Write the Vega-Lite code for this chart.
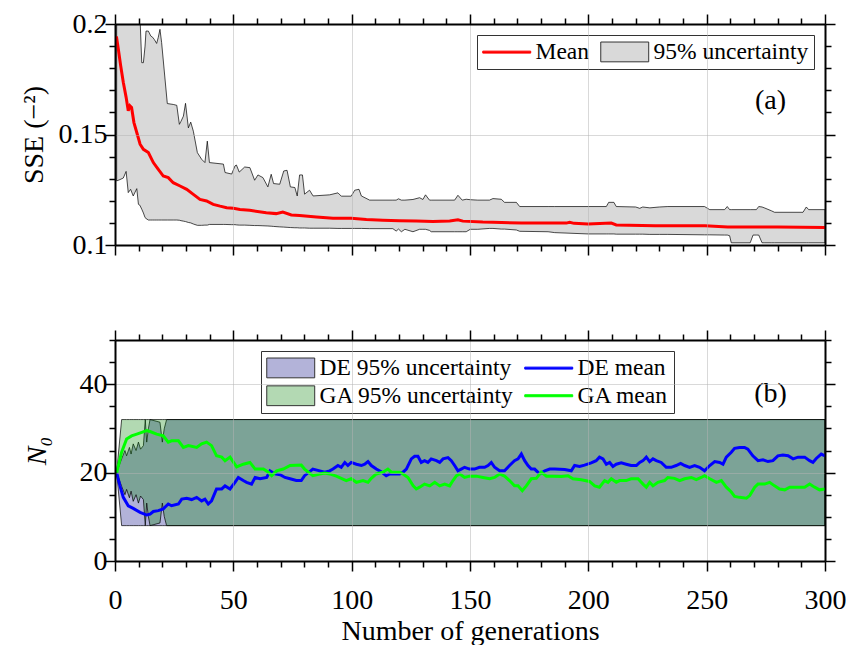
{
  "$schema": "https://vega.github.io/schema/vega-lite/v6.json",
  "padding": {"left": 20, "top": 10, "right": 5, "bottom": 0},
  "background": "white",
  "datasets": {
    "sseBand": [
      {"g":0.7,"lo":0.129,"hi":0.215},{"g":2.1,"lo":0.1296,"hi":0.215},{"g":3.5,"lo":0.1303,"hi":0.215},{"g":4.7,"lo":0.1333,"hi":0.215},{"g":5.6,"lo":0.1237,"hi":0.215},{"g":6.6,"lo":0.1252,"hi":0.215},{"g":7.7,"lo":0.1222,"hi":0.215},{"g":9.2,"lo":0.1255,"hi":0.215},{"g":9.9,"lo":0.1184,"hi":0.215},{"g":10.5,"lo":0.118,"hi":0.205},{"g":11.3,"lo":0.1162,"hi":0.1825},{"g":12,"lo":0.1145,"hi":0.1825},{"g":12.7,"lo":0.1124,"hi":0.19},{"g":13.1,"lo":0.112,"hi":0.1968},{"g":14.1,"lo":0.1113,"hi":0.1968},{"g":15.1,"lo":0.1113,"hi":0.1946},{"g":15.9,"lo":0.1113,"hi":0.194},{"g":16.6,"lo":0.1113,"hi":0.193},{"g":17.6,"lo":0.1113,"hi":0.1912},{"g":18.3,"lo":0.1113,"hi":0.194},{"g":19,"lo":0.1113,"hi":0.1976},{"g":19.7,"lo":0.1113,"hi":0.1916},{"g":22.1,"lo":0.1113,"hi":0.164},{"g":24.6,"lo":0.1113,"hi":0.1636},{"g":26.1,"lo":0.1113,"hi":0.1632},{"g":27.2,"lo":0.1112,"hi":0.1546},{"g":27.9,"lo":0.111,"hi":0.156},{"g":28.9,"lo":0.1108,"hi":0.1583},{"g":29.8,"lo":0.1106,"hi":0.1641},{"g":31,"lo":0.1102,"hi":0.153},{"g":32,"lo":0.11,"hi":0.1556},{"g":33.1,"lo":0.1095,"hi":0.1515},{"g":34.8,"lo":0.1089,"hi":0.1418},{"g":36.6,"lo":0.1089,"hi":0.1388},{"g":38,"lo":0.109,"hi":0.1373},{"g":39,"lo":0.109,"hi":0.147},{"g":39.9,"lo":0.1093,"hi":0.1373},{"g":45.8,"lo":0.1093,"hi":0.1366},{"g":46.5,"lo":0.1093,"hi":0.1328},{"g":49.3,"lo":0.1092,"hi":0.1321},{"g":50.7,"lo":0.1092,"hi":0.1358},{"g":51.3,"lo":0.1091,"hi":0.1362},{"g":52.5,"lo":0.109,"hi":0.133},{"g":54.8,"lo":0.109,"hi":0.1353},{"g":57,"lo":0.1089,"hi":0.135},{"g":59,"lo":0.1088,"hi":0.1293},{"g":60.4,"lo":0.1088,"hi":0.1317},{"g":62.5,"lo":0.1087,"hi":0.1305},{"g":64.6,"lo":0.1086,"hi":0.1263},{"g":66,"lo":0.1085,"hi":0.132},{"g":67,"lo":0.1084,"hi":0.1278},{"g":69.6,"lo":0.1082,"hi":0.1275},{"g":71.3,"lo":0.1081,"hi":0.1335},{"g":72.7,"lo":0.108,"hi":0.1338},{"g":74.1,"lo":0.1079,"hi":0.1263},{"g":76,"lo":0.1078,"hi":0.126},{"g":77,"lo":0.1078,"hi":0.1222},{"g":78,"lo":0.1077,"hi":0.1317},{"g":79.2,"lo":0.1077,"hi":0.1317},{"g":80.1,"lo":0.1077,"hi":0.123},{"g":82.2,"lo":0.1076,"hi":0.1248},{"g":83.7,"lo":0.1076,"hi":0.1222},{"g":90.7,"lo":0.1076,"hi":0.1227},{"g":94.2,"lo":0.1075,"hi":0.1236},{"g":95.6,"lo":0.1075,"hi":0.1221},{"g":99.8,"lo":0.1075,"hi":0.1221},{"g":101.3,"lo":0.1075,"hi":0.1248},{"g":103.1,"lo":0.1075,"hi":0.1252},{"g":104.1,"lo":0.1075,"hi":0.1222},{"g":107.6,"lo":0.1074,"hi":0.1203},{"g":117.4,"lo":0.1074,"hi":0.1203},{"g":118.8,"lo":0.1063,"hi":0.1203},{"g":119.8,"lo":0.1072,"hi":0.1209},{"g":121,"lo":0.106,"hi":0.1203},{"g":122.5,"lo":0.1071,"hi":0.1203},{"g":125.9,"lo":0.106,"hi":0.1206},{"g":128.7,"lo":0.1071,"hi":0.1214},{"g":130.1,"lo":0.1071,"hi":0.1206},{"g":131.2,"lo":0.1071,"hi":0.1227},{"g":132.9,"lo":0.1066,"hi":0.1203},{"g":133.6,"lo":0.106,"hi":0.1203},{"g":143.5,"lo":0.106,"hi":0.1203},{"g":144.9,"lo":0.106,"hi":0.1225},{"g":146.7,"lo":0.106,"hi":0.1203},{"g":148.4,"lo":0.106,"hi":0.1207},{"g":150.1,"lo":0.1071,"hi":0.1205},{"g":153.3,"lo":0.1071,"hi":0.1203},{"g":158.2,"lo":0.1075,"hi":0.1203},{"g":159.7,"lo":0.1075,"hi":0.121},{"g":163.2,"lo":0.1072,"hi":0.1207},{"g":164.6,"lo":0.1072,"hi":0.1193},{"g":169.6,"lo":0.1068,"hi":0.1193},{"g":171,"lo":0.1062,"hi":0.1174},{"g":183,"lo":0.106,"hi":0.1174},{"g":185.8,"lo":0.1056,"hi":0.1174},{"g":199.9,"lo":0.105,"hi":0.1174},{"g":207.6,"lo":0.105,"hi":0.1174},{"g":208.6,"lo":0.105,"hi":0.1193},{"g":210.8,"lo":0.105,"hi":0.1193},{"g":211.8,"lo":0.1049,"hi":0.1174},{"g":220,"lo":0.1049,"hi":0.1172},{"g":221.7,"lo":0.1049,"hi":0.1166},{"g":223,"lo":0.1049,"hi":0.1172},{"g":226,"lo":0.1048,"hi":0.1168},{"g":230,"lo":0.1048,"hi":0.1172},{"g":233.6,"lo":0.1048,"hi":0.1174},{"g":249.1,"lo":0.1046,"hi":0.1174},{"g":251.3,"lo":0.1046,"hi":0.116},{"g":257.6,"lo":0.1045,"hi":0.116},{"g":258.7,"lo":0.1045,"hi":0.1174},{"g":259.7,"lo":0.1042,"hi":0.116},{"g":260.4,"lo":0.101,"hi":0.116},{"g":268.4,"lo":0.101,"hi":0.116},{"g":269.6,"lo":0.1045,"hi":0.116},{"g":271,"lo":0.1045,"hi":0.116},{"g":272,"lo":0.1045,"hi":0.1174},{"g":273.4,"lo":0.101,"hi":0.1172},{"g":274.6,"lo":0.101,"hi":0.1167},{"g":277.3,"lo":0.101,"hi":0.1155},{"g":278.7,"lo":0.101,"hi":0.1148},{"g":290.7,"lo":0.101,"hi":0.1148},{"g":292.1,"lo":0.101,"hi":0.1172},{"g":293.1,"lo":0.101,"hi":0.116},{"g":300,"lo":0.101,"hi":0.116}
    ],
    "sseMean": [
      {"g":0.6,"v":0.1944},{"g":1.4,"v":0.1887},{"g":2.4,"v":0.1811},{"g":3.5,"v":0.1736},{"g":4.7,"v":0.1668},{"g":5.6,"v":0.1607},{"g":6.3,"v":0.163},{"g":7,"v":0.1622},{"g":8,"v":0.1554},{"g":9.2,"v":0.1509},{"g":10.6,"v":0.1456},{"g":12,"v":0.1433},{"g":14.1,"v":0.1418},{"g":16.2,"v":0.1373},{"g":18.3,"v":0.1342},{"g":20.4,"v":0.1312},{"g":22.5,"v":0.1305},{"g":24.6,"v":0.1282},{"g":27.5,"v":0.1267},{"g":30.3,"v":0.1252},{"g":33.1,"v":0.1229},{"g":35.9,"v":0.1206},{"g":38.7,"v":0.1199},{"g":41.5,"v":0.1184},{"g":44.4,"v":0.1176},{"g":47.2,"v":0.1169},{"g":50,"v":0.1166},{"g":52.8,"v":0.1161},{"g":56.9,"v":0.1157},{"g":63.9,"v":0.1146},{"g":68.1,"v":0.1142},{"g":70.9,"v":0.1149},{"g":74.5,"v":0.1136},{"g":78,"v":0.1134},{"g":85.1,"v":0.1127},{"g":92.1,"v":0.1121},{"g":99.8,"v":0.1121},{"g":106.2,"v":0.1115},{"g":113.2,"v":0.1112},{"g":120.2,"v":0.111},{"g":127.3,"v":0.1109},{"g":134.3,"v":0.1106},{"g":141.4,"v":0.1109},{"g":144.9,"v":0.1114},{"g":147,"v":0.1108},{"g":155.4,"v":0.1104},{"g":159.7,"v":0.1103},{"g":171.7,"v":0.1099},{"g":190.7,"v":0.1099},{"g":192.1,"v":0.1103},{"g":194,"v":0.1098},{"g":199.9,"v":0.1095},{"g":209.7,"v":0.1099},{"g":211.8,"v":0.1091},{"g":228.2,"v":0.1087},{"g":249.3,"v":0.1087},{"g":258.9,"v":0.1081},{"g":280,"v":0.1082},{"g":300,"v":0.1079}
    ],
    "deBand": [
      {"g":0.7,"lo":20,"hi":20},{"g":2.8,"lo":8,"hi":23.1},{"g":4.2,"lo":8,"hi":25},{"g":4.9,"lo":8,"hi":23.8},{"g":6.1,"lo":8,"hi":25.7},{"g":6.8,"lo":8,"hi":24.2},{"g":7.7,"lo":8,"hi":26.5},{"g":8.9,"lo":8,"hi":25},{"g":9.9,"lo":8,"hi":26.9},{"g":10.8,"lo":8,"hi":25.3},{"g":12,"lo":8,"hi":26.1},{"g":12.8,"lo":8,"hi":32},{"g":13.4,"lo":8,"hi":26.9},{"g":14.1,"lo":8,"hi":29.9},{"g":14.8,"lo":8,"hi":32},{"g":19,"lo":8,"hi":31.4},{"g":20,"lo":8,"hi":26.9},{"g":20.8,"lo":8,"hi":29.9},{"g":21.8,"lo":8,"hi":32},{"g":300,"lo":8,"hi":32}
    ],
    "gaBand": [
      {"g":0.7,"lo":20,"hi":20},{"g":2.8,"lo":16.9,"hi":32},{"g":4.2,"lo":15,"hi":32},{"g":4.9,"lo":16.2,"hi":32},{"g":6.1,"lo":14.3,"hi":32},{"g":6.8,"lo":15.8,"hi":32},{"g":7.7,"lo":13.5,"hi":32},{"g":8.9,"lo":15,"hi":32},{"g":9.9,"lo":13.1,"hi":32},{"g":10.8,"lo":14.7,"hi":32},{"g":12,"lo":13.9,"hi":32},{"g":12.8,"lo":8,"hi":32},{"g":13.4,"lo":13.1,"hi":32},{"g":14.1,"lo":10.1,"hi":32},{"g":14.8,"lo":8,"hi":32},{"g":19,"lo":8.6,"hi":32},{"g":20,"lo":13.1,"hi":32},{"g":20.8,"lo":10.1,"hi":32},{"g":21.8,"lo":8,"hi":32},{"g":300,"lo":8,"hi":32}
    ],
    "deMean": [
      {"g":0.7,"v":20},{"g":2.1,"v":17},{"g":3.5,"v":14.4},{"g":5.6,"v":12.5},{"g":7.7,"v":11.9},{"g":10.6,"v":11},{"g":13.4,"v":10.4},{"g":14.8,"v":10.6},{"g":16.2,"v":11.2},{"g":18.3,"v":11.4},{"g":20.4,"v":11.8},{"g":22.5,"v":12.9},{"g":23.9,"v":12.5},{"g":26.8,"v":12.9},{"g":28.2,"v":14},{"g":30.3,"v":14.2},{"g":32.4,"v":13.9},{"g":34.5,"v":14.4},{"g":36.6,"v":13.6},{"g":38,"v":14},{"g":39.4,"v":12.9},{"g":40.8,"v":13.6},{"g":42.9,"v":16.3},{"g":45.1,"v":16.3},{"g":46.5,"v":17},{"g":48.6,"v":16.3},{"g":50.7,"v":17.8},{"g":52.1,"v":18.9},{"g":54.2,"v":18.2},{"g":55.6,"v":17.8},{"g":57.7,"v":17.4},{"g":59.2,"v":18.9},{"g":61.3,"v":18.6},{"g":64.1,"v":18.9},{"g":65.5,"v":20.4},{"g":67.6,"v":19.7},{"g":69.8,"v":19.5},{"g":71.8,"v":18.9},{"g":74,"v":18.6},{"g":76.6,"v":18.2},{"g":78.7,"v":18.2},{"g":80.1,"v":19.3},{"g":83.6,"v":20.8},{"g":86.5,"v":20.4},{"g":88.6,"v":20.1},{"g":90.7,"v":20.4},{"g":92.1,"v":20.8},{"g":94.2,"v":21.6},{"g":95.6,"v":21.2},{"g":97.1,"v":22.3},{"g":98.4,"v":21.6},{"g":99.8,"v":22.3},{"g":102,"v":21.9},{"g":104.1,"v":21.6},{"g":105.5,"v":21.9},{"g":106.9,"v":22.5},{"g":108.3,"v":21.6},{"g":110.4,"v":20.8},{"g":112.5,"v":20.2},{"g":114.6,"v":19.3},{"g":116.1,"v":19.7},{"g":118.2,"v":19.7},{"g":120.3,"v":19.7},{"g":121.7,"v":20.1},{"g":123.1,"v":20.8},{"g":125.2,"v":23.1},{"g":126.6,"v":23.7},{"g":128,"v":23.7},{"g":129.4,"v":22.3},{"g":130.8,"v":22.7},{"g":132.2,"v":22.3},{"g":133.6,"v":23.1},{"g":135.8,"v":22.7},{"g":137.2,"v":22.3},{"g":138.6,"v":23.1},{"g":140.7,"v":23.4},{"g":142.1,"v":22.7},{"g":143.5,"v":21.6},{"g":144.9,"v":20.4},{"g":146.3,"v":20.8},{"g":147.7,"v":21.2},{"g":149.8,"v":20.8},{"g":151.9,"v":20.8},{"g":154,"v":21.2},{"g":156.2,"v":21.2},{"g":157.6,"v":21.6},{"g":159,"v":22.3},{"g":160.4,"v":21.2},{"g":162.5,"v":20.4},{"g":164.6,"v":20.4},{"g":166.7,"v":21.6},{"g":168.8,"v":22.7},{"g":170.3,"v":23.1},{"g":171.7,"v":24.2},{"g":173.1,"v":22.7},{"g":174.5,"v":21.6},{"g":175.9,"v":20.8},{"g":177.3,"v":20.8},{"g":179.4,"v":19.7},{"g":181.6,"v":20.4},{"g":183.7,"v":20.8},{"g":185.8,"v":20.8},{"g":190,"v":20.7},{"g":192.8,"v":20.4},{"g":194.2,"v":21.6},{"g":196.3,"v":21.4},{"g":198.4,"v":21.7},{"g":201.2,"v":22.2},{"g":203.3,"v":22.7},{"g":204.7,"v":23.5},{"g":206.2,"v":23.1},{"g":207.6,"v":21.9},{"g":209,"v":22.3},{"g":210.4,"v":21.4},{"g":211.8,"v":21.9},{"g":213.9,"v":22.2},{"g":216,"v":21.9},{"g":218.1,"v":21.6},{"g":220.3,"v":21.6},{"g":221.7,"v":22.3},{"g":223.1,"v":22.7},{"g":224.5,"v":23.5},{"g":225.9,"v":22.5},{"g":227.3,"v":23.1},{"g":228.7,"v":22.7},{"g":230.8,"v":22.3},{"g":232.9,"v":21.2},{"g":235,"v":21.2},{"g":237.1,"v":21.6},{"g":239,"v":22.1},{"g":240.7,"v":21.6},{"g":242.8,"v":21.2},{"g":244.9,"v":21.6},{"g":247,"v":21.2},{"g":249.1,"v":20.4},{"g":251.3,"v":21.6},{"g":253.4,"v":22.5},{"g":255.5,"v":22.3},{"g":256.9,"v":21.9},{"g":258.3,"v":23.5},{"g":260.4,"v":24.6},{"g":261.8,"v":25.5},{"g":263.9,"v":25.7},{"g":266,"v":25.7},{"g":267.4,"v":25.3},{"g":269.5,"v":23.8},{"g":271.7,"v":22.7},{"g":273.8,"v":22.9},{"g":275.9,"v":22.5},{"g":278,"v":22.7},{"g":280.1,"v":23.8},{"g":282.2,"v":24},{"g":284.4,"v":23.8},{"g":286.5,"v":23.1},{"g":288.6,"v":23.5},{"g":291.4,"v":23.5},{"g":293.5,"v":22.7},{"g":294.9,"v":22.3},{"g":296.3,"v":23.2},{"g":298.4,"v":24.2},{"g":300,"v":23.8}
    ],
    "gaMean": [
      {"g":0.7,"v":20},{"g":2.8,"v":24.6},{"g":4.9,"v":27.6},{"g":7,"v":28.3},{"g":9.2,"v":28.7},{"g":11.3,"v":29.1},{"g":13.4,"v":29.5},{"g":14.8,"v":29.3},{"g":17.6,"v":28.7},{"g":20.4,"v":28.3},{"g":22.5,"v":26.9},{"g":23.9,"v":27.2},{"g":26.8,"v":27.2},{"g":28.9,"v":25.7},{"g":31,"v":26.1},{"g":34.5,"v":25.7},{"g":36.6,"v":26.5},{"g":38.7,"v":26.9},{"g":40.8,"v":26.1},{"g":42.9,"v":23.8},{"g":45.1,"v":23.5},{"g":46.5,"v":22.7},{"g":48.6,"v":23.5},{"g":51.4,"v":21.3},{"g":54.2,"v":21.9},{"g":57,"v":22.3},{"g":59.2,"v":20.8},{"g":62.7,"v":20.8},{"g":64.8,"v":20.1},{"g":66.2,"v":19.3},{"g":68.3,"v":20.4},{"g":71.1,"v":20.8},{"g":74,"v":21.6},{"g":78.7,"v":21.7},{"g":80.1,"v":20.8},{"g":83.6,"v":19.3},{"g":86.5,"v":19.7},{"g":88.6,"v":19.9},{"g":90.7,"v":19.7},{"g":93.5,"v":19.2},{"g":95.6,"v":18.7},{"g":97.7,"v":18.2},{"g":99.8,"v":18.6},{"g":102,"v":17.8},{"g":104.8,"v":18.2},{"g":106.9,"v":17.8},{"g":108.3,"v":18.7},{"g":110.4,"v":19.7},{"g":113.2,"v":20.1},{"g":115.3,"v":20.8},{"g":116.8,"v":20.1},{"g":120.3,"v":20.1},{"g":121.7,"v":19.7},{"g":123.8,"v":18.9},{"g":126,"v":17},{"g":127.3,"v":16.3},{"g":128.7,"v":16.7},{"g":130.8,"v":17.4},{"g":133,"v":17},{"g":135.1,"v":17.8},{"g":137.2,"v":17},{"g":139.3,"v":17.4},{"g":141.4,"v":17},{"g":142.8,"v":18.2},{"g":144.3,"v":19.3},{"g":145.7,"v":19.7},{"g":147.7,"v":18.9},{"g":149.8,"v":19.2},{"g":152.6,"v":19.2},{"g":155.5,"v":18.9},{"g":158.3,"v":18.6},{"g":160.4,"v":18.9},{"g":162.5,"v":19.7},{"g":164.6,"v":19.2},{"g":166.7,"v":18.2},{"g":168.8,"v":17},{"g":170.3,"v":17},{"g":172.1,"v":15.9},{"g":173.8,"v":17},{"g":175.9,"v":18.6},{"g":178,"v":18.7},{"g":180.1,"v":20.1},{"g":182.3,"v":19.2},{"g":185.1,"v":19.2},{"g":188.6,"v":19.1},{"g":191.4,"v":19.3},{"g":193.5,"v":18.6},{"g":197,"v":18.4},{"g":200.5,"v":18},{"g":202.7,"v":17},{"g":204.7,"v":16.7},{"g":206.9,"v":18.2},{"g":208.3,"v":17.8},{"g":209.7,"v":18.6},{"g":211.8,"v":17.8},{"g":213.2,"v":18.2},{"g":216,"v":18.2},{"g":218.1,"v":18.6},{"g":221,"v":18.6},{"g":223.1,"v":17.4},{"g":224.5,"v":16.7},{"g":225.9,"v":17.8},{"g":227.3,"v":17},{"g":229.4,"v":17.8},{"g":232.2,"v":18.2},{"g":233.6,"v":18.9},{"g":236.4,"v":18.7},{"g":238.6,"v":18.2},{"g":240.7,"v":18.6},{"g":243.5,"v":18.9},{"g":245.6,"v":18.4},{"g":247.7,"v":18.9},{"g":249.1,"v":19.3},{"g":251.3,"v":18.6},{"g":254.1,"v":17.8},{"g":256.2,"v":18.2},{"g":258.3,"v":16.7},{"g":260.4,"v":15.6},{"g":261.8,"v":14.6},{"g":263.9,"v":14.4},{"g":266.8,"v":14.2},{"g":268.2,"v":14.8},{"g":270.3,"v":16.7},{"g":271.7,"v":17.4},{"g":274.5,"v":17.4},{"g":276.6,"v":17.8},{"g":278.7,"v":17},{"g":280.8,"v":16.3},{"g":283,"v":16.1},{"g":285.1,"v":16.7},{"g":287.2,"v":16.7},{"g":291.4,"v":16.7},{"g":293.5,"v":17.4},{"g":295.6,"v":16.7},{"g":297.7,"v":16.1},{"g":300,"v":16.3}
    ],
    "topKeys": [{"s": "Mean"}, {"s": "95% uncertainty"}],
    "bottomKeys": [{"s": "DE 95% uncertainty"}, {"s": "DE mean"}, {"s": "GA 95% uncertainty"}, {"s": "GA mean"}]
  },
  "config": {
    "view": {"stroke": null},
    "font": "Liberation Serif",
    "axis": {
      "domainColor": "black", "domainWidth": 2, "tickColor": "black", "tickWidth": 1.5,
      "labelFont": "Liberation Serif", "labelFontSize": 28, "labelColor": "black",
      "titleFont": "Liberation Serif", "titleFontSize": 28, "titleFontWeight": "normal", "titleColor": "black",
      "gridColor": "#b4b4b4", "gridWidth": 1, "labelOverlap": false, "labelFlush": false, "labelPadding": -2
    },
    "legend": {
      "labelFont": "Liberation Serif", "labelFontSize": 23.5, "labelColor": "black", "labelLimit": 400,
      "strokeColor": "#333333", "fillColor": "white", "padding": 5, "cornerRadius": 0,
      "symbolSize": 484, "symbolStrokeWidth": 1, "symbolOpacity": 1, "labelOffset": 30, "columnPadding": 8, "rowPadding": 3
    }
  },
  "spacing": 67,
  "resolve": {"scale": {"fill": "independent", "stroke": "independent", "shape": "independent"}, "legend": {"fill": "independent", "stroke": "independent", "shape": "independent"}},
  "vconcat": [
    {
      "width": 710, "height": 221,
      "resolve": {"axis": {"x": "independent", "y": "independent"}},
      "layer": [
        {
          "data": {"name": "sseBand"},
          "mark": {"type": "area", "fill": "#d9d9d9", "stroke": "black", "strokeWidth": 0.7, "fillOpacity": 1, "clip": true},
          "encoding": {
            "x": {"field": "g", "type": "quantitative", "scale": {"domain": [0, 300], "nice": false},
              "axis": {"orient": "bottom", "values": [0,10,20,30,40,50,60,70,80,90,100,110,120,130,140,150,160,170,180,190,200,210,220,230,240,250,260,270,280,290,300], "labels": false, "title": null, "zindex": 1,
                "tickSize": {"condition": {"test": "datum.value % 50 === 0", "value": 10}, "value": 6},
                "grid": true, "gridOpacity": {"condition": {"test": "datum.value % 50 === 0", "value": 0.5}, "value": 0}}},
            "y": {"field": "hi", "type": "quantitative", "scale": {"domain": [0.1, 0.2], "nice": false, "zero": false},
              "axis": {"orient": "left", "values": [0.1,0.11,0.12,0.13,0.14,0.15,0.16,0.17,0.18,0.19,0.2], "format": "~g", "zindex": 1,
                "labelExpr": "round(datum.value*1000) % 50 === 0 ? datum.label : ''",
                "tickSize": {"condition": {"test": "round(datum.value*1000) % 50 === 0", "value": 10}, "value": 6},
                "grid": true, "gridOpacity": {"condition": {"test": "round(datum.value*1000) % 50 === 0", "value": 0.5}, "value": 0},
                "title": "SSE (−²)", "titlePadding": 10}},
            "y2": {"field": "lo"}
          }
        },
        {
          "data": {"name": "sseMean"},
          "mark": {"type": "line", "stroke": "#ff0000", "strokeWidth": 3, "clip": true},
          "encoding": {
            "x": {"field": "g", "type": "quantitative",
              "axis": {"orient": "top", "values": [0,10,20,30,40,50,60,70,80,90,100,110,120,130,140,150,160,170,180,190,200,210,220,230,240,250,260,270,280,290,300], "labels": false, "title": null, "grid": false, "zindex": 1,
                "tickSize": {"condition": {"test": "datum.value % 50 === 0", "value": 10}, "value": 6}}},
            "y": {"field": "v", "type": "quantitative",
              "axis": {"orient": "right", "values": [0.1,0.11,0.12,0.13,0.14,0.15,0.16,0.17,0.18,0.19,0.2], "labels": false, "title": null, "grid": false, "zindex": 1,
                "tickSize": {"condition": {"test": "round(datum.value*1000) % 50 === 0", "value": 10}, "value": 6}}}
          }
        },
        {
          "data": {"values": [{}]},
          "mark": {"type": "text", "fontSize": 28, "font": "Liberation Serif", "color": "black", "align": "center", "baseline": "middle"},
          "encoding": {
            "x": {"datum": 277, "type": "quantitative", "axis": null},
            "y": {"datum": 0.165, "type": "quantitative", "axis": null},
            "text": {"value": "(a)"}
          }
        },
        {
          "data": {"name": "topKeys"},
          "mark": {"type": "point", "filled": true, "opacity": 0},
          "encoding": {
            "fill": {"field": "s", "type": "nominal",
              "scale": {"domain": ["Mean", "95% uncertainty"], "range": ["#ff0000", "#d9d9d9"]},
              "legend": {"title": null, "orient": "top-right", "offset": 11, "direction": "horizontal", "columns": 2, "symbolOpacity": 1}},
            "stroke": {"field": "s", "type": "nominal",
              "scale": {"domain": ["Mean", "95% uncertainty"], "range": ["#ff0000", "#333333"]},
              "legend": {"title": null, "orient": "top-right", "offset": 11, "direction": "horizontal", "columns": 2, "symbolOpacity": 1}},
            "shape": {"field": "s", "type": "nominal",
              "scale": {"domain": ["Mean", "95% uncertainty"], "range": ["M-1,-0.09H3.36V0.09H-1Z", "M-1,-0.9H3.36V0.9H-1Z"]},
              "legend": {"title": null, "orient": "top-right", "offset": 11, "direction": "horizontal", "columns": 2, "symbolOpacity": 1}}
          }
        }
      ]
    },
    {
      "width": 710, "height": 221,
      "resolve": {"axis": {"x": "independent", "y": "independent"}},
      "layer": [
        {
          "data": {"name": "deBand"},
          "mark": {"type": "area", "fill": "#000080", "stroke": "black", "strokeWidth": 0.7, "fillOpacity": 0.3, "strokeOpacity": 1},
          "encoding": {
            "x": {"field": "g", "type": "quantitative", "scale": {"domain": [0, 300], "nice": false},
              "axis": {"orient": "bottom", "values": [0,10,20,30,40,50,60,70,80,90,100,110,120,130,140,150,160,170,180,190,200,210,220,230,240,250,260,270,280,290,300], "zindex": 1,
                "labelExpr": "datum.value % 50 === 0 ? datum.label : ''", "labelPadding": 15,
                "tickSize": {"condition": {"test": "datum.value % 50 === 0", "value": 10}, "value": 6},
                "grid": true, "gridOpacity": {"condition": {"test": "datum.value % 50 === 0", "value": 0.5}, "value": 0},
                "title": "Number of generations", "titlePadding": 3}},
            "y": {"field": "hi", "type": "quantitative", "scale": {"domain": [0, 50], "nice": false},
              "axis": {"orient": "left", "values": [0,5,10,15,20,25,30,35,40,45,50], "zindex": 1,
                "labelExpr": "datum.value % 20 === 0 ? datum.label : ''",
                "tickSize": {"condition": {"test": "datum.value % 20 === 0", "value": 10}, "value": 6},
                "grid": true, "gridOpacity": {"condition": {"test": "datum.value % 20 === 0", "value": 0.5}, "value": 0},
                "title": "N₀", "titleFontStyle": "italic", "titlePadding": 28}},
            "y2": {"field": "lo"}
          }
        },
        {
          "data": {"name": "gaBand"},
          "mark": {"type": "area", "fill": "#008000", "stroke": "black", "strokeWidth": 0.7, "fillOpacity": 0.3, "strokeOpacity": 1},
          "encoding": {
            "x": {"field": "g", "type": "quantitative", "axis": null},
            "y": {"field": "hi", "type": "quantitative", "axis": null},
            "y2": {"field": "lo"}
          }
        },
        {
          "data": {"name": "deMean"},
          "mark": {"type": "line", "stroke": "#0000ff", "strokeWidth": 3},
          "encoding": {
            "x": {"field": "g", "type": "quantitative",
              "axis": {"orient": "top", "values": [0,10,20,30,40,50,60,70,80,90,100,110,120,130,140,150,160,170,180,190,200,210,220,230,240,250,260,270,280,290,300], "labels": false, "title": null, "grid": false, "zindex": 1,
                "tickSize": {"condition": {"test": "datum.value % 50 === 0", "value": 10}, "value": 6}}},
            "y": {"field": "v", "type": "quantitative",
              "axis": {"orient": "right", "values": [0,5,10,15,20,25,30,35,40,45,50], "labels": false, "title": null, "grid": false, "zindex": 1,
                "tickSize": {"condition": {"test": "datum.value % 20 === 0", "value": 10}, "value": 6}}}
          }
        },
        {
          "data": {"name": "gaMean"},
          "mark": {"type": "line", "stroke": "#00ff00", "strokeWidth": 3},
          "encoding": {
            "x": {"field": "g", "type": "quantitative", "axis": null},
            "y": {"field": "v", "type": "quantitative", "axis": null}
          }
        },
        {
          "data": {"values": [{}]},
          "mark": {"type": "text", "fontSize": 28, "font": "Liberation Serif", "color": "black", "align": "center", "baseline": "middle"},
          "encoding": {
            "x": {"datum": 277, "type": "quantitative", "axis": null},
            "y": {"datum": 37.8, "type": "quantitative", "axis": null},
            "text": {"value": "(b)"}
          }
        },
        {
          "data": {"name": "bottomKeys"},
          "mark": {"type": "point", "filled": true, "opacity": 0},
          "encoding": {
            "fill": {"field": "s", "type": "nominal",
              "scale": {"domain": ["DE 95% uncertainty", "DE mean", "GA 95% uncertainty", "GA mean"], "range": ["#b3b3d9", "#0000ff", "#b3d9b3", "#00ff00"]},
              "legend": {"title": null, "orient": "none", "legendX": 146, "legendY": 11, "direction": "horizontal", "columns": 2, "symbolOpacity": 1}},
            "stroke": {"field": "s", "type": "nominal",
              "scale": {"domain": ["DE 95% uncertainty", "DE mean", "GA 95% uncertainty", "GA mean"], "range": ["#333333", "#0000ff", "#333333", "#00ff00"]},
              "legend": {"title": null, "orient": "none", "legendX": 146, "legendY": 11, "direction": "horizontal", "columns": 2, "symbolOpacity": 1}},
            "shape": {"field": "s", "type": "nominal",
              "scale": {"domain": ["DE 95% uncertainty", "DE mean", "GA 95% uncertainty", "GA mean"], "range": ["M-1,-0.9H3.36V0.9H-1Z", "M-1,-0.09H3.36V0.09H-1Z", "M-1,-0.9H3.36V0.9H-1Z", "M-1,-0.09H3.36V0.09H-1Z"]},
              "legend": {"title": null, "orient": "none", "legendX": 146, "legendY": 11, "direction": "horizontal", "columns": 2, "symbolOpacity": 1}}
          }
        }
      ]
    }
  ]
}
